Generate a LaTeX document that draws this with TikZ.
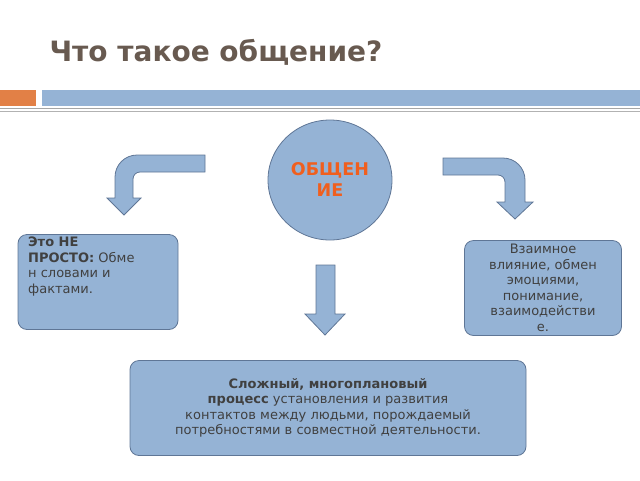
\documentclass[tikz,border=0pt]{standalone}
\usepackage{fontspec}
\setmainfont{DejaVu Sans}
\usetikzlibrary{positioning}
\usetikzlibrary{shapes.geometric}
\definecolor{boxfill}{RGB}{149,179,213}
\definecolor{boxline}{RGB}{95,118,150}
\definecolor{titlecol}{RGB}{104,90,80}
\definecolor{orangecol}{RGB}{226,128,70}
\definecolor{hotorange}{RGB}{240,95,30}
\definecolor{textcol}{RGB}{64,64,64}
\tikzset{
  infobox/.style={draw=boxline,fill=boxfill,rounded corners=9pt,line width=0.8pt,
    text=textcol,font=\fontsize{13}{15.5}\selectfont,align=center},
  arrowshape/.style={draw=boxline,fill=boxfill,line width=0.8pt}
}
\begin{document}
\begin{tikzpicture}[x=1pt,y=-1pt]
  \useasboundingbox (0,0) rectangle (640,480);

  \node [anchor=west,text=titlecol,font=\fontsize{28}{32}\bfseries\selectfont] (title) at (46,52) {Что такое общение?};

  \fill [orangecol] (0,90) rectangle (36,106);
  \fill [boxfill] (42,90) rectangle (640,106);
  \draw [gray!70,line width=1.2pt] (0,108.5) -- (640,108.5);
  \draw [gray!60,line width=0.6pt] (0,111.5) -- (640,111.5);

  \node [ellipse,draw=boxline,fill=boxfill,line width=0.8pt,minimum width=124,minimum height=120,
    text=hotorange,font=\fontsize{17.5}{21}\bfseries\selectfont,align=center] (main) at (330,180) {ОБЩЕН\\ИЕ};

  % curved arrows
  \draw [arrowshape] (205,155) [rounded corners=22]-- (115,155) [sharp corners]-- (115,198) -- (107,198)
    -- (124,215) -- (141,198) -- (133,198) [rounded corners=7]-- (133,172) [sharp corners]-- (205,172) -- cycle;
  \draw [arrowshape] (443,158) [rounded corners=22]-- (525,158) [sharp corners]-- (525,202) -- (533,202)
    -- (515,219) -- (497,202) -- (505,202) [rounded corners=7]-- (505,175) [sharp corners]-- (443,175) -- cycle;
  \draw [arrowshape] (316,265) -- (335,265) -- (335,314) -- (345,314) -- (325,335) -- (305,314) -- (316,314) -- cycle;

  \node [infobox,minimum width=160,minimum height=95] (left) at (98,282) {};
  \node [anchor=north west,text=textcol,font=\fontsize{13}{15.5}\selectfont,align=left,inner sep=0pt] (lefttext) at (28,237)
    {\textbf{Это НЕ}\\ \textbf{ПРОСТО:} Обме\\н словами и\\ фактами.};
  \node [infobox,minimum width=157,minimum height=95] (right) at (543,288)
    {Взаимное\\ влияние, обмен\\ эмоциями,\\ понимание,\\ взаимодействи\\е.};
  \node [infobox,minimum width=396,minimum height=95] (bottom) at (328,408)
    {\textbf{Сложный, многоплановый}\\ \textbf{процесс} установления и развития\\ контактов между людьми, порождаемый\\ потребностями в совместной деятельности.};
\end{tikzpicture}
\end{document}
